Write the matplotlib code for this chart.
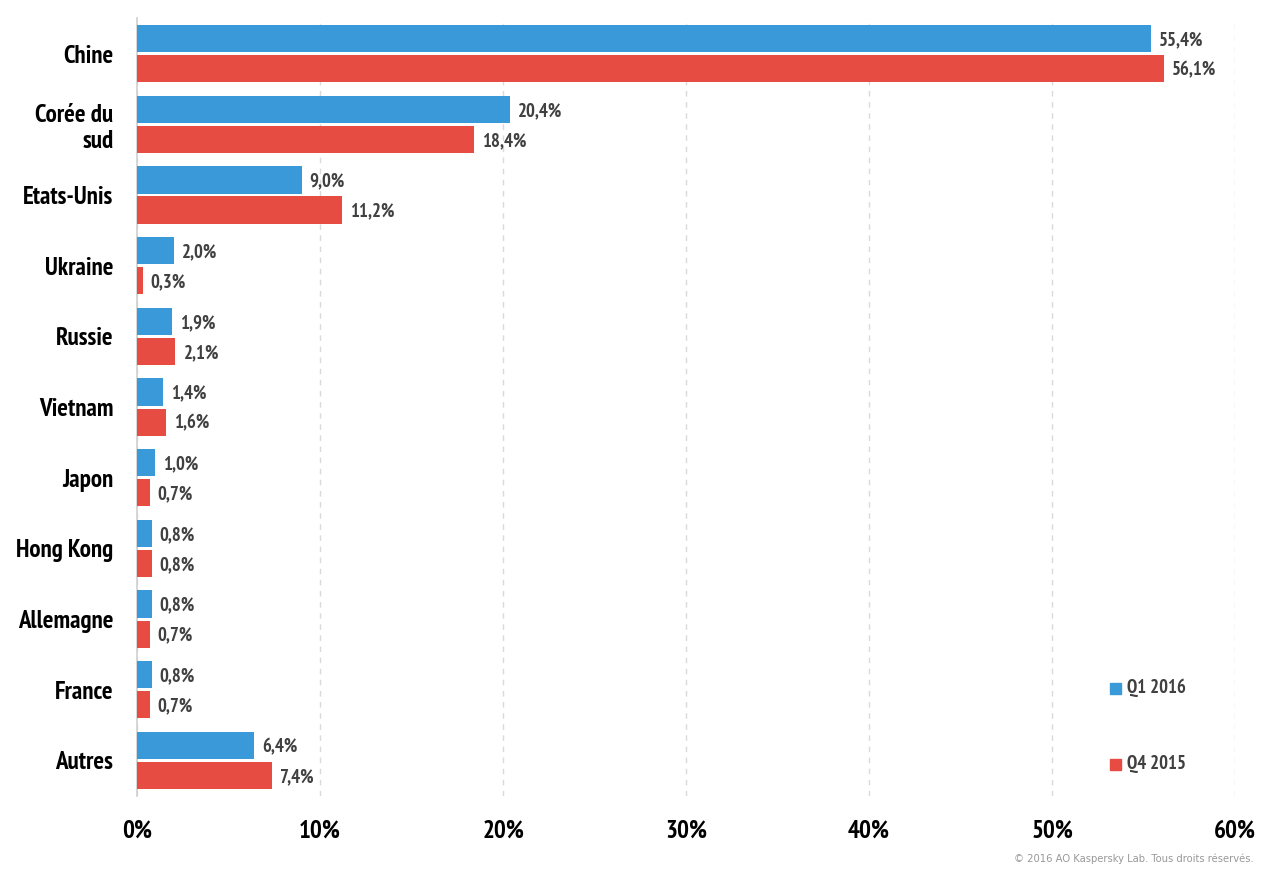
#!/usr/bin/env python
import matplotlib
matplotlib.use('Agg')
import matplotlib.pyplot as plt
import numpy as np
from matplotlib.transforms import offset_copy
from matplotlib.patches import Rectangle

countries = ['Chine', 'Corée du\nsud', 'Etats-Unis', 'Ukraine', 'Russie', 'Vietnam',
             'Japon', 'Hong Kong', 'Allemagne', 'France', 'Autres']
q1_2016 = [55.4, 20.4, 9.0, 2.0, 1.9, 1.4, 1.0, 0.8, 0.8, 0.8, 6.4]
q4_2015 = [56.1, 18.4, 11.2, 0.3, 2.1, 1.6, 0.7, 0.8, 0.7, 0.7, 7.4]
xticks = [0, 10, 20, 30, 40, 50, 60]
series = ['Q1 2016', 'Q4 2015']

blue = '#3a99d8'
red = '#e74c42'
fnt = ['PT Sans Narrow', 'DejaVu Sans']

fig = plt.figure(figsize=(12.64, 8.74), dpi=100)
ax = fig.add_axes([0.1084, 0.0895, 0.8687, 0.8895])

y = np.arange(len(countries))
h = 0.385
ax.barh(y - 0.213, q1_2016, height=h, color=blue, zorder=3)
ax.barh(y + 0.213, q4_2015, height=h, color=red, zorder=3)

# value labels next to each bar
lab_tr = offset_copy(ax.transData, fig=fig, x=8, y=-1.5, units='dots')
for i in range(len(countries)):
    ax.text(q1_2016[i], y[i] - 0.213, ('%.1f%%' % q1_2016[i]).replace('.', ','),
            transform=lab_tr, va='center', ha='left', fontsize=13.5,
            fontweight='bold', color='#404040', family=fnt)
    ax.text(q4_2015[i], y[i] + 0.213, ('%.1f%%' % q4_2015[i]).replace('.', ','),
            transform=lab_tr, va='center', ha='left', fontsize=13.5,
            fontweight='bold', color='#404040', family=fnt)

ax.set_ylim(len(countries) - 0.5, -0.5)
ax.set_xlim(0, 60)
ax.set_yticks(y)
ax.set_yticklabels(countries, fontsize=18, fontweight='bold', family=fnt,
                   linespacing=1.2)
ax.set_xticks(xticks)
ax.set_xticklabels(['%d%%' % v for v in xticks], fontsize=18, fontweight='bold',
                   family=fnt)
ax.tick_params(axis='both', length=0)
ax.tick_params(axis='y', pad=17)
ax.tick_params(axis='x', pad=17)

for s in ['top', 'right', 'bottom']:
    ax.spines[s].set_visible(False)
ax.spines['left'].set_color('#d0d0d0')
ax.spines['left'].set_linewidth(1.2)
ax.grid(axis='x', linestyle=(0, (4, 4)), color='#dadada', linewidth=1, zorder=0)
ax.set_axisbelow(True)

# legend
for name, col, ypx in zip(series, [blue, red], [688, 764]):
    fig.patches.append(Rectangle((1110 / 1264, 1 - (ypx + 6) / 874), 11 / 1264, 11 / 874,
                                 transform=fig.transFigure, color=col, figure=fig))
    fig.text(1127 / 1264, 1 - ypx / 874, name, color='#404040', fontsize=13.5,
             fontweight='bold', va='center', ha='left', family=fnt)

fig.text(0.992, 1 - 859 / 874, '© 2016 AO Kaspersky Lab. Tous droits réservés.',
         color='#999999', fontsize=7.2, ha='right', va='center', family='DejaVu Sans')

fig.savefig('out.png', dpi=100)
